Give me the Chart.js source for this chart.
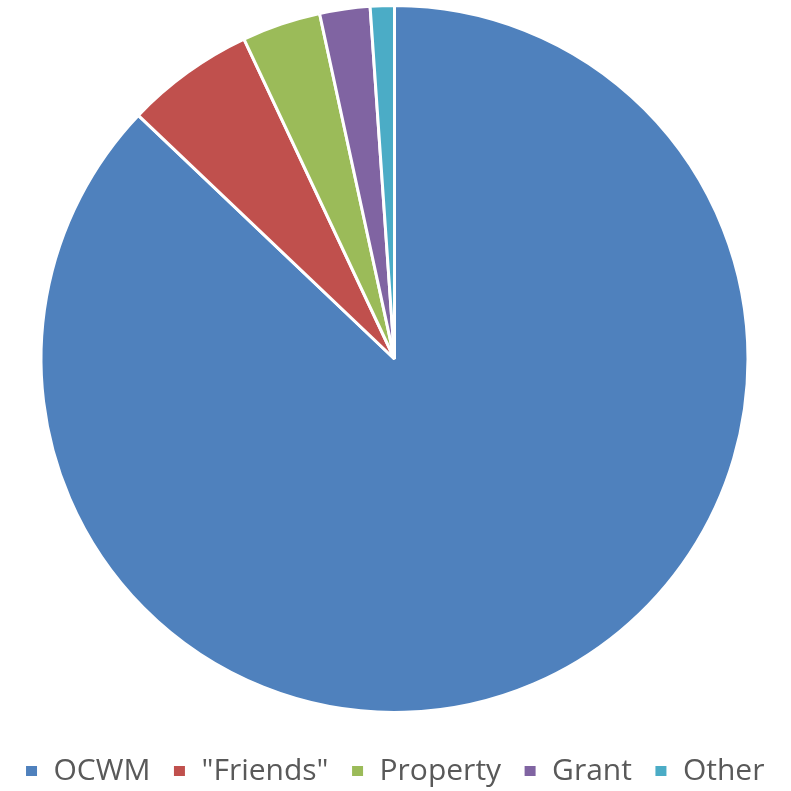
<!DOCTYPE html>
<html>
<head>
<meta charset="utf-8">
<script src="https://cdn.jsdelivr.net/npm/chart.js@4"></script>
<style>
  html, body { margin: 0; padding: 0; background: #fff; overflow: hidden; }
  /* canvas un peu plus haut et remonté pour placer le camembert comme l'original */
  #wrap { width: 791px; height: 807px; margin-top: -16px; }
</style>
</head>
<body>
<div id="wrap"><canvas id="chart"></canvas></div>
<script>
const labels = ['OCWM', '"Friends"', 'Property', 'Grant', 'Other'];
const values = [87.1, 5.9, 3.6, 2.3, 1.1];
const colors = ['#4F81BD', '#C0504D', '#9BBB59', '#8064A2', '#4BACC6'];

new Chart(document.getElementById('chart'), {
    type: 'pie',
    data: {
        labels: labels,
        datasets: [{
            data: values,
            backgroundColor: colors,
            borderColor: '#ffffff',
            borderWidth: 3,
            radius: 353.5, // rayon fixe
        }],
    },
    options: {
        responsive: true,
        maintainAspectRatio: false,
        animation: false,
        layout: {
            padding: { top: 0, left: 0, right: 2, bottom: -5 },
        },
        plugins: {
            legend: {
                position: 'bottom',
                labels: {
                    color: '#595959',
                    boxWidth: 14,
                    boxHeight: 13,
                    padding: 22,
                    font: { family: 'Open Sans', size: 30 },
                },
            },
            tooltip: { enabled: false },
        },
    },
});
</script>
</body>
</html>
